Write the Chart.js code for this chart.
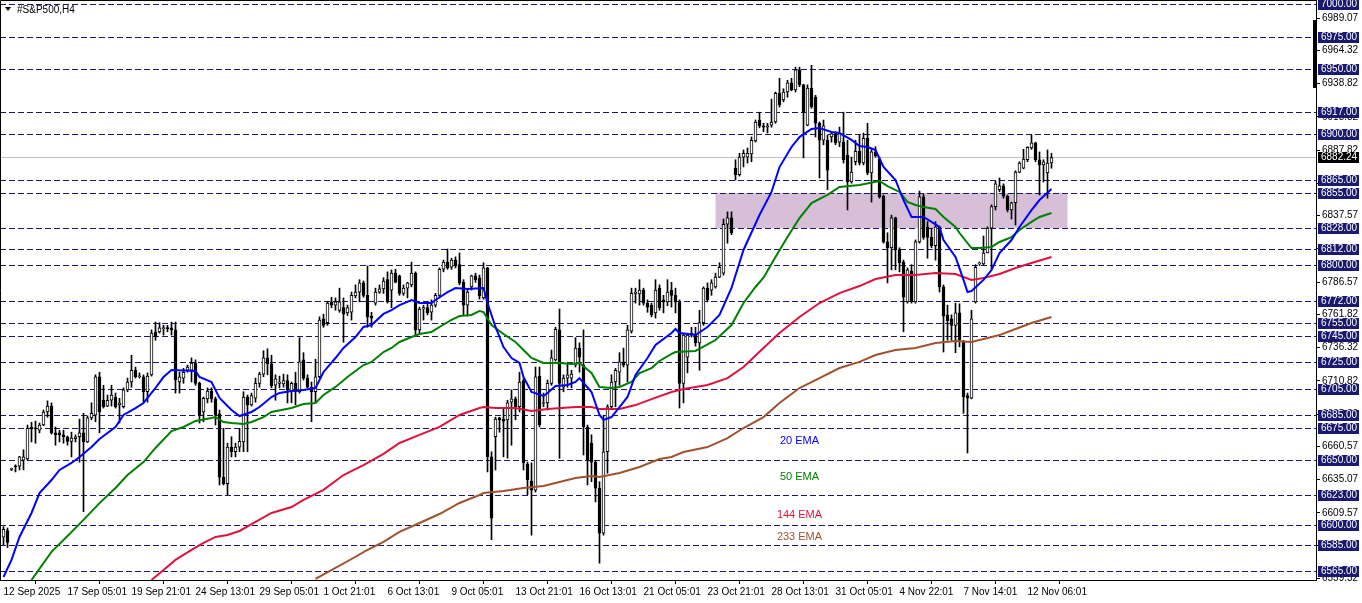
<!DOCTYPE html>
<html>
<head>
<meta charset="utf-8">
<script src="https://cdn.jsdelivr.net/npm/chart.js@4"></script>
<style>html,body{margin:0;padding:0;background:#fff}canvas{display:block}</style>
</head>
<body>
<canvas id="c" width="1362" height="603"></canvas>
<script>
// #S&P500 H4 candles, index 0 = 12 Sep 2025
const opens = [
  6591, 6596, 6643, 6645.5, 6645.5, 6650, 6651, 6675.5, 6674.5, 6673,
  6677, 6687, 6691.5, 6671, 6671, 6669.5, 6668, 6664.5, 6666.5, 6668,
  6671, 6664, 6682.5, 6684.5, 6714, 6696, 6691.5, 6696, 6698.5, 6692.5,
  6691, 6704, 6710, 6719, 6714, 6714, 6702.5, 6715.5, 6748.5, 6748.5,
  6751, 6751.5, 6751.5, 6750, 6710, 6713, 6719, 6719, 6724.5, 6709,
  6687, 6697, 6703, 6697, 6685.5, 6637, 6632, 6660, 6656.5, 6660,
  6664, 6698.5, 6692.5, 6697.5, 6709, 6716, 6728.5, 6724, 6707.5, 6709,
  6708.5, 6711, 6702.5, 6709, 6702.5, 6727, 6713, 6706, 6702.5, 6714,
  6758.5, 6755.5, 6771.5, 6769, 6765, 6767, 6763, 6763.5, 6776, 6779,
  6786, 6776.5, 6760.5, 6770.5, 6779, 6781.5, 6788.5, 6780.5, 6793.5, 6791.5,
  6778, 6782, 6784.5, 6793.5, 6750, 6766, 6767, 6763.5, 6769, 6776.5,
  6796.5, 6802, 6798, 6803.5, 6800, 6786.5, 6769, 6783, 6791.5, 6790,
  6774.5, 6797.5, 6652.5, 6668, 6682.5, 6681.5, 6681, 6694.5, 6697, 6691,
  6711, 6647, 6634, 6627, 6714.5, 6693.5, 6694, 6709, 6727, 6750,
  6706, 6713, 6713, 6723, 6736, 6723, 6675.5, 6663, 6648.5, 6628.5,
  6594, 6656.5, 6691, 6710, 6717.5, 6725.5, 6723, 6749, 6778, 6777.5,
  6780.5, 6770.5, 6769, 6763, 6782, 6773, 6771.5, 6780.5, 6776.5, 6771.5,
  6709, 6729, 6746, 6747, 6740, 6755.5, 6782, 6780.5, 6783, 6790.5,
  6793.5, 6831, 6836, 6874, 6869, 6882.5, 6882.5, 6885, 6895, 6911,
  6906.5, 6905.5, 6907, 6909.5, 6931.5, 6926.5, 6932.5, 6939.5, 6934, 6949.5,
  6938, 6907, 6935.5, 6928.5, 6908.5, 6895.5, 6895.5, 6898, 6900.5, 6894,
  6894, 6884, 6863.5, 6879, 6887, 6878, 6897, 6870.5, 6886.5, 6881,
  6852.5, 6817.5, 6813, 6836, 6811.5, 6802, 6771.5, 6795, 6771.5, 6817.5,
  6852, 6829, 6821, 6814.5, 6829, 6783, 6761.5, 6758.5, 6753.5, 6763,
  6740.5, 6699.5, 6697.5, 6771.5, 6800.5, 6800.5, 6809, 6828, 6844.5, 6857.5,
  6860.5, 6852.5, 6842, 6847.5, 6871, 6874, 6880.5, 6889.5, 6893.5, 6880.5,
  6876.5, 6870.5, 6878
];
const highs = [
  6599, 6598, 6644, 6646.5, 6653, 6658, 6677, 6679, 6680, 6678.5,
  6688.5, 6695.5, 6694, 6675.5, 6673, 6673, 6668.5, 6671.5, 6669.5, 6681.5,
  6686, 6684, 6694, 6715.5, 6717.5, 6707.5, 6700, 6707.5, 6701.5, 6697.5,
  6705.5, 6713, 6730.5, 6721.5, 6717, 6715.5, 6717, 6750, 6756, 6755.5,
  6753.5, 6753.5, 6756, 6756, 6717.5, 6720.5, 6723, 6728.5, 6727, 6710,
  6698.5, 6705.5, 6705.5, 6698.5, 6688.5, 6674.5, 6663, 6668, 6663, 6674.5,
  6702.5, 6700, 6701.5, 6713, 6717.5, 6734, 6735.5, 6730.5, 6715.5, 6714.5,
  6716, 6715.5, 6710, 6717.5, 6744, 6732.5, 6715.5, 6710, 6727.5, 6760,
  6762, 6771.5, 6775, 6774.5, 6782, 6774.5, 6769, 6779, 6784.5, 6788.5,
  6787.5, 6799, 6763.5, 6782, 6784.5, 6790, 6794.5, 6796, 6796.5, 6792,
  6784.5, 6786.5, 6802, 6794.5, 6767.5, 6769, 6770, 6773, 6778, 6797.5,
  6803.5, 6812, 6805, 6806, 6809, 6788.5, 6780.5, 6792, 6793.5, 6792,
  6801.5, 6798, 6656.5, 6683, 6683, 6690, 6696, 6704, 6698.5, 6717.5,
  6712.5, 6648.5, 6648, 6721.5, 6721.5, 6701.5, 6711.5, 6734.5, 6752, 6766,
  6715.5, 6724.5, 6719, 6744, 6740, 6750, 6677, 6669.5, 6650, 6633.5,
  6684.5, 6692.5, 6715.5, 6720.5, 6732.5, 6736, 6753.5, 6782, 6782, 6788.5,
  6782, 6773, 6770.5, 6788.5, 6784.5, 6776.5, 6788.5, 6786.5, 6782, 6773,
  6747.5, 6747.5, 6752, 6752, 6765, 6783, 6786, 6788.5, 6793.5, 6801.5,
  6835, 6840.5, 6840.5, 6880.5, 6885.5, 6888, 6889.5, 6898, 6911, 6917,
  6908.5, 6908.5, 6927, 6932.5, 6943, 6935, 6941.5, 6943, 6951.5, 6951.5,
  6938.5, 6938, 6953, 6930, 6909.5, 6911, 6899.5, 6902, 6902, 6905.5,
  6917, 6895.5, 6882.5, 6895.5, 6899.5, 6901, 6908.5, 6889.5, 6890.5, 6882.5,
  6853.5, 6824.5, 6838, 6836.5, 6813, 6803.5, 6797.5, 6800, 6819, 6856.5,
  6854, 6833, 6828, 6833, 6829.5, 6784.5, 6769, 6761.5, 6770.5, 6770,
  6742, 6701.5, 6765, 6800, 6802, 6822, 6829, 6846, 6864, 6866.5,
  6862, 6853.5, 6848, 6872, 6879, 6888.5, 6890.5, 6899.5, 6894, 6886.5,
  6880.5, 6888, 6885.5
];
const lows = [
  6585, 6583, 6642, 6641, 6642.5, 6642.5, 6650, 6664, 6663, 6671,
  6676.5, 6683, 6670, 6661.5, 6664, 6663, 6661.5, 6652.5, 6664, 6648.5,
  6610.5, 6663.5, 6681, 6679.5, 6671, 6690, 6691, 6691.5, 6690, 6678.5,
  6690, 6702.5, 6706, 6713, 6713, 6694.5, 6694.5, 6714.5, 6742, 6747.5,
  6746, 6748.5, 6746, 6701.5, 6701.5, 6709, 6717.5, 6710, 6707.5, 6678.5,
  6679.5, 6694, 6694.5, 6677, 6631, 6631, 6623.5, 6652.5, 6652.5, 6656.5,
  6656.5, 6656.5, 6691.5, 6694.5, 6706, 6714, 6715.5, 6705.5, 6696, 6705.5,
  6706, 6694, 6694, 6692.5, 6701.5, 6711.5, 6705.5, 6679.5, 6694.5, 6713,
  6752, 6753.5, 6767, 6765, 6763.5, 6740.5, 6761, 6757.5, 6774.5, 6771.5,
  6775, 6752, 6752, 6769, 6778, 6778, 6770.5, 6767, 6786, 6776.5,
  6776.5, 6774.5, 6783, 6746, 6747.5, 6757.5, 6761.5, 6757.5, 6767.5, 6775,
  6794.5, 6796.5, 6796.5, 6797.5, 6784.5, 6761.5, 6760.5, 6780.5, 6786.5, 6773.5,
  6773.5, 6641, 6589, 6642.5, 6671.5, 6652.5, 6651.5, 6661.5, 6681, 6687,
  6642.5, 6623.5, 6592.5, 6625.5, 6675.5, 6691, 6688.5, 6707.5, 6726, 6651.5,
  6702.5, 6706, 6705.5, 6721.5, 6717.5, 6654, 6631, 6633.5, 6618, 6571,
  6592.5, 6640, 6690, 6691, 6707.5, 6721.5, 6710, 6747.5, 6770.5, 6769,
  6769, 6763.5, 6760, 6759, 6765, 6763, 6768.5, 6767.5, 6763, 6690,
  6694, 6717, 6744.5, 6737.5, 6719, 6753.5, 6771.5, 6776.5, 6782, 6790,
  6792, 6816.5, 6823, 6865, 6868, 6875, 6878, 6879, 6894, 6905,
  6902, 6901, 6905.5, 6908.5, 6921, 6925, 6928.5, 6933.5, 6932.5, 6936.5,
  6882, 6906.5, 6920, 6898, 6866.5, 6892, 6857.5, 6894, 6892, 6890.5,
  6878, 6842, 6862.5, 6876.5, 6876.5, 6876.5, 6869, 6848, 6882.5, 6851,
  6816.5, 6786, 6796, 6796, 6794.5, 6748.5, 6770.5, 6770.5, 6770.5, 6816.5,
  6819.5, 6805, 6813, 6803.5, 6779, 6733, 6742, 6742, 6732.5, 6737,
  6686, 6655.5, 6697, 6770.5, 6799.5, 6800, 6809, 6796, 6842, 6856,
  6851, 6840.5, 6835, 6830.5, 6870.5, 6873.5, 6879, 6888.5, 6879, 6853.5,
  6863.5, 6851, 6874
];
const closes = [
  6597, 6587, 6643.5, 6645, 6652.5, 6652.5, 6674.5, 6674, 6674, 6677,
  6687, 6691.5, 6671, 6669.5, 6669.5, 6668, 6664.5, 6667, 6668, 6671,
  6664, 6682.5, 6686, 6714, 6687, 6691, 6696, 6700, 6691, 6694,
  6704, 6710, 6719, 6714, 6714.5, 6702.5, 6714.5, 6747.5, 6744.5, 6751.5,
  6751.5, 6751, 6750, 6711.5, 6714, 6717.5, 6721.5, 6724.5, 6709, 6684.5,
  6697.5, 6703, 6697, 6684.5, 6637, 6632, 6660, 6656.5, 6660, 6664.5,
  6698.5, 6692.5, 6699.5, 6709, 6716, 6728.5, 6724, 6707, 6712.5, 6710,
  6711, 6704, 6709, 6702.5, 6725.5, 6713, 6706, 6702.5, 6714, 6757.5,
  6753.5, 6770.5, 6769, 6771.5, 6771.5, 6762, 6767, 6776.5, 6779, 6786,
  6776.5, 6760, 6759, 6779, 6781.5, 6787.5, 6771.5, 6793.5, 6786.5, 6778,
  6782, 6786, 6793.5, 6750, 6766, 6767, 6763, 6769, 6776.5, 6796.5,
  6802, 6797.5, 6803.5, 6799, 6786, 6769, 6779, 6791.5, 6788.5, 6776,
  6797.5, 6652.5, 6605.5, 6681.5, 6681, 6680, 6694, 6697, 6691, 6710,
  6648, 6635, 6627, 6714, 6677, 6694, 6709, 6728.5, 6750.5, 6709,
  6713, 6715.5, 6716, 6736, 6729, 6675.5, 6650, 6648.5, 6628.5, 6594,
  6656.5, 6691, 6710, 6719, 6725.5, 6723, 6750, 6778, 6779, 6780.5,
  6770.5, 6767.5, 6761.5, 6780.5, 6767, 6771.5, 6779, 6776.5, 6771.5, 6709,
  6746, 6746, 6747.5, 6740, 6755.5, 6782, 6773, 6786, 6790.5, 6798,
  6831, 6836, 6824.5, 6869, 6882.5, 6885.5, 6885.5, 6895.5, 6909.5, 6906.5,
  6905.5, 6906.5, 6909.5, 6931.5, 6922.5, 6932.5, 6939.5, 6934, 6949.5, 6938,
  6917, 6935.5, 6921, 6908.5, 6895.5, 6906.5, 6872.5, 6900.5, 6893.5, 6900.5,
  6880.5, 6863.5, 6871, 6887, 6878, 6897, 6870.5, 6886.5, 6883.5, 6852,
  6817.5, 6813, 6836, 6811.5, 6801.5, 6775, 6796, 6771.5, 6817.5, 6852,
  6821, 6821, 6814.5, 6829, 6783, 6760.5, 6757, 6753.5, 6763, 6742,
  6698.5, 6697.5, 6758.5, 6798, 6801.5, 6809, 6828, 6844.5, 6862, 6860.5,
  6852.5, 6842, 6847.5, 6871, 6878, 6881, 6890, 6893.5, 6880.5, 6876.5,
  6879, 6878, 6882.24
];

// moving averages: [bar index, value]
const ema20 = [[0,6560.4],[2,6573.5],[4,6591.1],[7,6609.5],[9,6624.8],[12,6634.8],[14,6642.5],[17,6647.9],[19,6652.5],[22,6660.1],[24,6666.3],[28,6675.5],[30,6684.7],[33,6690],[35,6693.9],[38,6705.4],[40,6713.8],[42,6719.2],[48,6718.4],[49,6713.8],[52,6710],[54,6697.7],[57,6688.5],[59,6683.9],[62,6687],[64,6690.8],[67,6698.5],[69,6701.6],[72,6703.1],[75,6703.9],[78,6705.4],[80,6717.7],[83,6728.4],[85,6736.1],[88,6744.5],[90,6752.2],[92,6753.7],[95,6762.2],[97,6765.2],[99,6769],[102,6772.9],[104,6770.6],[107,6770.6],[108,6772.9],[111,6779],[113,6782.1],[116,6781.3],[120,6782.1],[121,6770.6],[123,6752.2],[125,6736.8],[127,6728.4],[129,6724.6],[130,6713.8],[132,6702.3],[135,6699.3],[136,6701.6],[138,6706.9],[141,6707.7],[143,6710],[144,6713],[147,6702.3],[149,6684.7],[150,6680.9],[152,6683.1],[154,6690.8],[156,6698.5],[158,6715.4],[161,6728.4],[163,6738.4],[167,6747.6],[168,6750.7],[169,6747.6],[173,6746],[176,6752.2],[179,6761.4],[182,6782.1],[185,6811.3],[189,6838.1],[192,6855.8],[194,6874.9],[197,6890.3],[199,6897.9],[202,6904.1],[204,6904.9],[207,6901.8],[209,6901],[212,6895.7],[214,6891.1],[216,6890.3],[218,6888],[220,6875],[223,6865],[225,6849.6],[227,6836.6],[230,6836.6],[232,6832.8],[234,6828.9],[235,6818.9],[238,6806],[240,6788.3],[241,6779],[242,6779.8],[245,6788.3],[247,6795.9],[249,6809],[252,6818.9],[254,6828.9],[257,6841.9],[259,6849.6],[262,6858.1]];
const ema50 = [[7,6558.1],[12,6579.7],[16,6591.8],[20,6604.2],[24,6617.1],[28,6628.7],[31,6638.6],[35,6648.6],[38,6659.4],[42,6672.4],[45,6675.5],[48,6680.1],[52,6682.4],[53,6683.1],[55,6679.3],[57,6678.5],[60,6677.8],[62,6679.3],[65,6683.1],[67,6687],[72,6690],[75,6693.1],[78,6693.9],[80,6700],[83,6706.2],[86,6713.8],[90,6723],[92,6725.4],[95,6733],[97,6736.1],[99,6740.7],[102,6744.5],[104,6746.8],[107,6748.4],[109,6752.2],[112,6757.6],[114,6760.6],[117,6761.4],[119,6764.5],[120,6763.7],[122,6753.7],[125,6746.8],[128,6740.7],[130,6734.6],[132,6728.4],[135,6724.6],[139,6724.6],[142,6723.8],[144,6724.6],[147,6716.9],[149,6706.2],[152,6705.4],[154,6706.2],[157,6710],[159,6716.9],[162,6720.7],[164,6726.1],[167,6731.5],[168,6733],[173,6733.8],[178,6742.2],[182,6753.7],[185,6770.6],[188,6782.9],[190,6790],[193,6805.9],[196,6821.2],[199,6835.8],[202,6847.3],[206,6853.5],[209,6859.6],[214,6861.1],[219,6864.2],[221,6860.3],[224,6855.8],[226,6848.1],[228,6845.8],[230,6844.3],[233,6842.7],[235,6836.6],[238,6828.9],[239,6824.3],[242,6812.8],[244,6812.8],[247,6813.6],[249,6817.4],[252,6821.2],[254,6826.6],[257,6832.8],[259,6836.6],[262,6839.7]];
const ema144 = [[37,6558.1],[40,6565.8],[43,6573.5],[47,6581.2],[50,6586.5],[53,6591.1],[56,6592.6],[59,6595.7],[63,6602.6],[67,6609.5],[72,6614.1],[75,6619.5],[80,6627.2],[85,6638.6],[90,6646.3],[95,6654.8],[99,6663.2],[104,6669.4],[109,6675.5],[114,6684.7],[119,6690],[120,6690.8],[123,6690],[128,6690],[132,6687.7],[136,6689.3],[143,6690.8],[147,6690.8],[149,6689.3],[154,6689.3],[158,6692.3],[162,6696.9],[167,6702.3],[170,6704.6],[176,6707.7],[181,6713],[185,6721.5],[190,6736.1],[194,6747.6],[199,6759.9],[204,6770.6],[209,6778.2],[214,6783.6],[218,6789],[223,6792.1],[228,6792.1],[233,6793.6],[238,6792.9],[242,6788.3],[245,6789.8],[249,6792.9],[253,6797.5],[257,6801.3],[262,6805.9]];
const ema233 = [[78,6558.9],[83,6567.3],[87,6574.2],[91,6581.2],[95,6587.3],[99,6595],[104,6601.8],[109,6608.7],[114,6617.2],[119,6623.3],[120,6624.8],[125,6626.4],[130,6628.7],[135,6630.2],[140,6634],[143,6636.3],[147,6637.9],[149,6637.1],[154,6640.2],[159,6644.8],[164,6650.9],[167,6652.5],[170,6656.3],[176,6660.1],[181,6667],[185,6674.7],[190,6683.1],[194,6693.9],[199,6705.4],[204,6713],[209,6720.7],[214,6725.4],[218,6730.7],[223,6734.6],[228,6736.1],[233,6739.9],[238,6741.4],[242,6740.7],[245,6743],[249,6746],[253,6750.7],[257,6755.3],[262,6759.9]];

const xTickIdx = [0, 16, 32, 48, 64, 80, 96, 112, 128, 144, 160, 176, 192, 208, 224, 240, 256];
const xTickLabels = ['12 Sep 2025', '17 Sep 05:01', '19 Sep 21:01', '24 Sep 13:01', '29 Sep 05:01',
  '1 Oct 21:01', '6 Oct 13:01', '9 Oct 05:01', '13 Oct 21:01', '16 Oct 13:01', '21 Oct 05:01',
  '23 Oct 21:01', '28 Oct 13:01', '31 Oct 05:01', '4 Nov 22:01', '7 Nov 14:01', '12 Nov 06:01'];
const yTickVals = [6989.07, 6964.32, 6938.82, 6913.32, 6887.82, 6862.32, 6837.57, 6812.07, 6786.57,
  6761.82, 6736.32, 6710.82, 6685.32, 6660.57, 6635.07, 6609.57, 6584.82, 6559.32];

// horizontal levels (dashed) and the current bid
const hLevels = [7000, 6975, 6950, 6917, 6900, 6865, 6855, 6828, 6812, 6800, 6772, 6755,
  6745, 6725, 6705, 6685, 6675, 6650, 6623, 6600, 6585, 6565];
const lastPrice = 6882.24;

// supply/demand box: bar index range and price range
const zoneBars = [178, 266];
const zonePrices = [6855, 6828];

// text labels on the chart
const emaNames = ['20 EMA', '50 EMA', '144 EMA', '233 EMA'];
const emaColors = ['#0000ff', '#008000', '#dc143c', '#a0522d'];
const emaLabelBar = 199;
const emaLabelPrices = [6664.7, 6637.1, 6608, 6591.1];
const sideBar = [6987.7, 6935.6];

Chart.defaults.font.family = 'Liberation Sans, Arial, sans-serif';
Chart.defaults.font.size = 10;

const idx = closes.map((_, i) => i);

const mt4Plugin = {
  id: 'mt4Overlay',
  beforeDatasetsDraw(chart) {
    const { ctx, chartArea: a, scales: { x, y } } = chart;
    ctx.save();
    ctx.beginPath();
    ctx.rect(a.left, a.top, a.right - a.left, a.bottom - a.top);
    ctx.clip();
    // zone
    const zx1 = x.getPixelForValue(zoneBars[0]), zx2 = x.getPixelForValue(zoneBars[1]);
    const zy1 = y.getPixelForValue(zonePrices[0]), zy2 = y.getPixelForValue(zonePrices[1]);
    ctx.fillStyle = '#d8bfd8';
    ctx.fillRect(zx1, zy1, zx2 - zx1, zy2 - zy1);
    // dashed levels
    ctx.lineWidth = 1;
    ctx.strokeStyle = '#191970';
    ctx.setLineDash([6, 3]);
    hLevels.forEach(v => {
      const py = Math.round(y.getPixelForValue(v)) + 0.5;
      ctx.beginPath();
      ctx.moveTo(a.left, py);
      ctx.lineTo(a.right, py);
      ctx.stroke();
    });
    ctx.setLineDash([]);
    ctx.strokeStyle = '#c0c0c0';
    const cp = Math.round(y.getPixelForValue(lastPrice)) + 0.5;
    ctx.beginPath();
    ctx.moveTo(a.left, cp);
    ctx.lineTo(a.right, cp);
    ctx.stroke();
    ctx.restore();
  },
  afterDraw(chart) {
    const { ctx, chartArea: a, scales: { x, y } } = chart;
    ctx.save();
    // frame left/top
    ctx.strokeStyle = '#000';
    ctx.lineWidth = 1;
    ctx.beginPath();
    ctx.moveTo(0.5, a.bottom);
    ctx.lineTo(0.5, 0.5);
    ctx.lineTo(a.right, 0.5);
    ctx.stroke();

    // black bar at the right edge
    const sb1 = y.getPixelForValue(sideBar[0]), sb2 = y.getPixelForValue(sideBar[1]);
    ctx.fillStyle = '#000';
    ctx.fillRect(a.right - 3, sb1, 3, sb2 - sb1);

    // price boxes on the axis
    ctx.font = '10px Liberation Sans, Arial, sans-serif';
    ctx.textBaseline = 'middle';
    ctx.textAlign = 'left';
    const box = (v, bg) => {
      const py = Math.round(y.getPixelForValue(v));
      ctx.fillStyle = bg;
      ctx.fillRect(a.right + 2, py - 5, 41, 11);
      ctx.fillStyle = '#fff';
      ctx.fillText(v.toFixed(2), a.right + 5, py + 0.5);
    };
    hLevels.forEach(v => box(v, '#191970'));
    box(lastPrice, '#000');

    // symbol title
    ctx.fillStyle = '#000';
    ctx.beginPath();
    ctx.moveTo(5, 7);
    ctx.lineTo(11, 7);
    ctx.lineTo(8, 11);
    ctx.closePath();
    ctx.fill();
    ctx.fillText('#S&P500,H4', 17, 10);

    // EMA captions
    ctx.font = '11px Liberation Sans, Arial, sans-serif';
    ctx.textAlign = 'center';
    emaNames.forEach((t, k) => {
      ctx.fillStyle = emaColors[k];
      ctx.fillText(t, x.getPixelForValue(emaLabelBar), y.getPixelForValue(emaLabelPrices[k]));
    });
    ctx.restore();
  }
};

const lineDs = (pts, color) => ({
  type: 'line',
  data: pts.map(([i, v]) => ({ x: i, y: v })),
  borderColor: color,
  borderWidth: 2,
  pointRadius: 0,
  tension: 0,
  fill: false
});

new Chart(document.getElementById('c'), {
  type: 'bar',
  data: {
    datasets: [
      lineDs(ema20, emaColors[0]),
      lineDs(ema50, emaColors[1]),
      lineDs(ema144, emaColors[2]),
      lineDs(ema233, emaColors[3]),
      {
        type: 'bar',
        data: idx.map(i => ({ x: i, y: [opens[i], closes[i]] })),
        backgroundColor: idx.map(i => closes[i] >= opens[i] ? '#ffffff' : '#000000'),
        borderColor: '#000',
        borderWidth: 1,
        borderSkipped: false,
        barThickness: 3,
        minBarLength: 1,
        grouped: false
      },
      {
        type: 'bar',
        data: idx.map(i => ({ x: i, y: [lows[i], highs[i]] })),
        backgroundColor: '#000',
        borderWidth: 0,
        barThickness: 1,
        grouped: false
      }
    ]
  },
  options: {
    responsive: false,
    animation: false,
    events: [],
    layout: { padding: 0 },
    plugins: { legend: { display: false }, tooltip: { enabled: false } },
    scales: {
      x: {
        type: 'linear',
        min: -0.875,
        max: 328.125,
        offset: false,
        grid: { drawOnChartArea: false, tickLength: 4, color: '#000' },
        border: { display: true, color: '#000' },
        ticks: {
          autoSkip: false, maxRotation: 0, minRotation: 0, align: 'start',
          padding: 2, color: '#000', font: { size: 10 },
          callback: (v, i) => xTickLabels[i]
        },
        afterBuildTicks: s => { s.ticks = xTickIdx.map(v => ({ value: v })); },
        afterFit: s => { s.height = 23; s.paddingLeft = 0; s.paddingRight = 0; }
      },
      y: {
        position: 'right',
        min: 6558.09,
        max: 7003.07,
        grid: { drawOnChartArea: false, tickLength: 4, color: '#000' },
        border: { display: true, color: '#000' },
        ticks: {
          autoSkip: false, padding: 2, color: '#000', font: { size: 10 },
          callback: v => v.toFixed(2)
        },
        afterBuildTicks: s => { s.ticks = yTickVals.map(v => ({ value: v })); },
        afterFit: s => { s.width = 46; s.paddingTop = 0; s.paddingBottom = 0; }
      }
    }
  },
  plugins: [mt4Plugin]
});
</script>
</body>
</html>
